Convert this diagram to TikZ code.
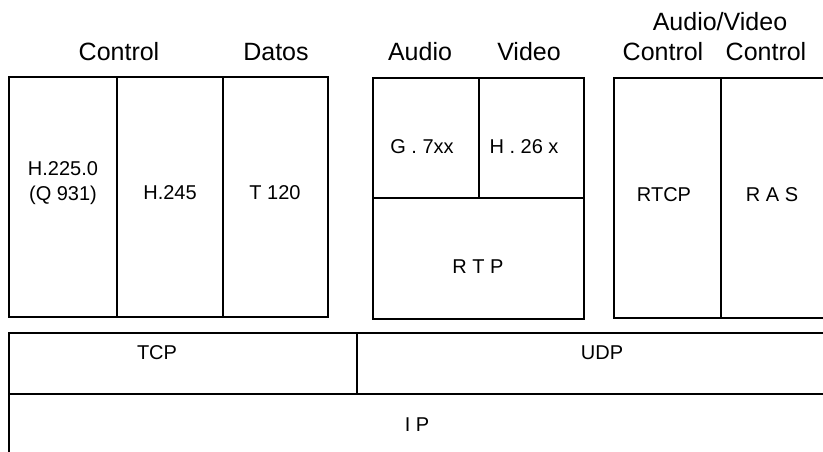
\documentclass[tikz,border=0pt]{standalone}
\usepackage{fontspec}
\setmainfont{Liberation Sans}
\usetikzlibrary{positioning}

\begin{document}
\begin{tikzpicture}[
  x=1pt, y=-1pt,
  cell/.style = {draw, line width=1.1pt, outer sep=0pt, inner sep=0pt,
                 minimum height=240pt},
  hdr/.style  = {font=\fontsize{25}{28}\selectfont, inner sep=0pt},
  txt/.style  = {font=\fontsize{20}{25}\selectfont, align=center, inner sep=0pt},
]
\useasboundingbox (0,0) rectangle (823,451);
\clip (0,0) rectangle (823,451);

% =========================== control / data ================================
\node[cell, minimum width=108pt] (h225) at (63,197) {};
\node[cell, minimum width=106pt, right=0pt of h225] (h245) {};
\node[cell, minimum width=105pt, right=0pt of h245] (t120) {};

% =========================== audio / video =================================
\node[cell, minimum width=106pt, minimum height=120pt] (g7xx) at (426,138) {};
\node[cell, minimum width=105pt, minimum height=120pt, right=0pt of g7xx] (h26x) {};
\node[cell, minimum width=211pt, minimum height=121pt, anchor=north west]
  (rtp) at (g7xx.south west) {};

% =========================== a/v control ===================================
\node[cell, minimum width=107pt] (rtcp) at (667.5,198) {};
\node[cell, minimum width=120pt, right=0pt of rtcp] (ras) {};

% =========================== transport / network ===========================
\node[cell, minimum width=348pt, minimum height=61pt] (tcp) at (183,363.5) {};
\node[cell, minimum width=480pt, minimum height=61pt, right=0pt of tcp] (udp) {};
\node[cell, minimum width=830pt, minimum height=80pt, anchor=north west]
  (ip) at (tcp.south west) {};

% =========================== headings ======================================
\node[hdr] (hctl)  at (119,52) {Control};
\node[hdr] (hdat)  at (276,52) {Datos};
\node[hdr] (haud)  at (420,52) {Audio};
\node[hdr] (hvid)  at (529,52) {Video};
\node[hdr] (hav)   at (720,22) {Audio/Video};
\node[hdr] (hctla) at (663,52) {Control};
\node[hdr] (hctlb) at (766,52) {Control};

% =========================== cell texts ====================================
\node[txt] (th225) at (63,183)   {H.225.0\\(Q 931)};
\node[txt] (th245) at (170,193)  {H.245};
\node[txt] (tt120) at (275,193)  {T 120};
\node[txt] (tg7xx) at (422,147)  {G . 7xx};
\node[txt] (th26x) at (524,147)  {H . 26 x};
\node[txt] (trtp)  at (478,267)  {R T P};
\node[txt] (trtcp) at (664,195)  {RTCP};
\node[txt] (tras)  at (772,195)  {R A S};
\node[txt] (ttcp)  at (157,353)  {TCP};
\node[txt] (tudp)  at (602,353)  {UDP};
\node[txt] (tip)   at (417,425)  {I P};

\end{tikzpicture}
\end{document}
